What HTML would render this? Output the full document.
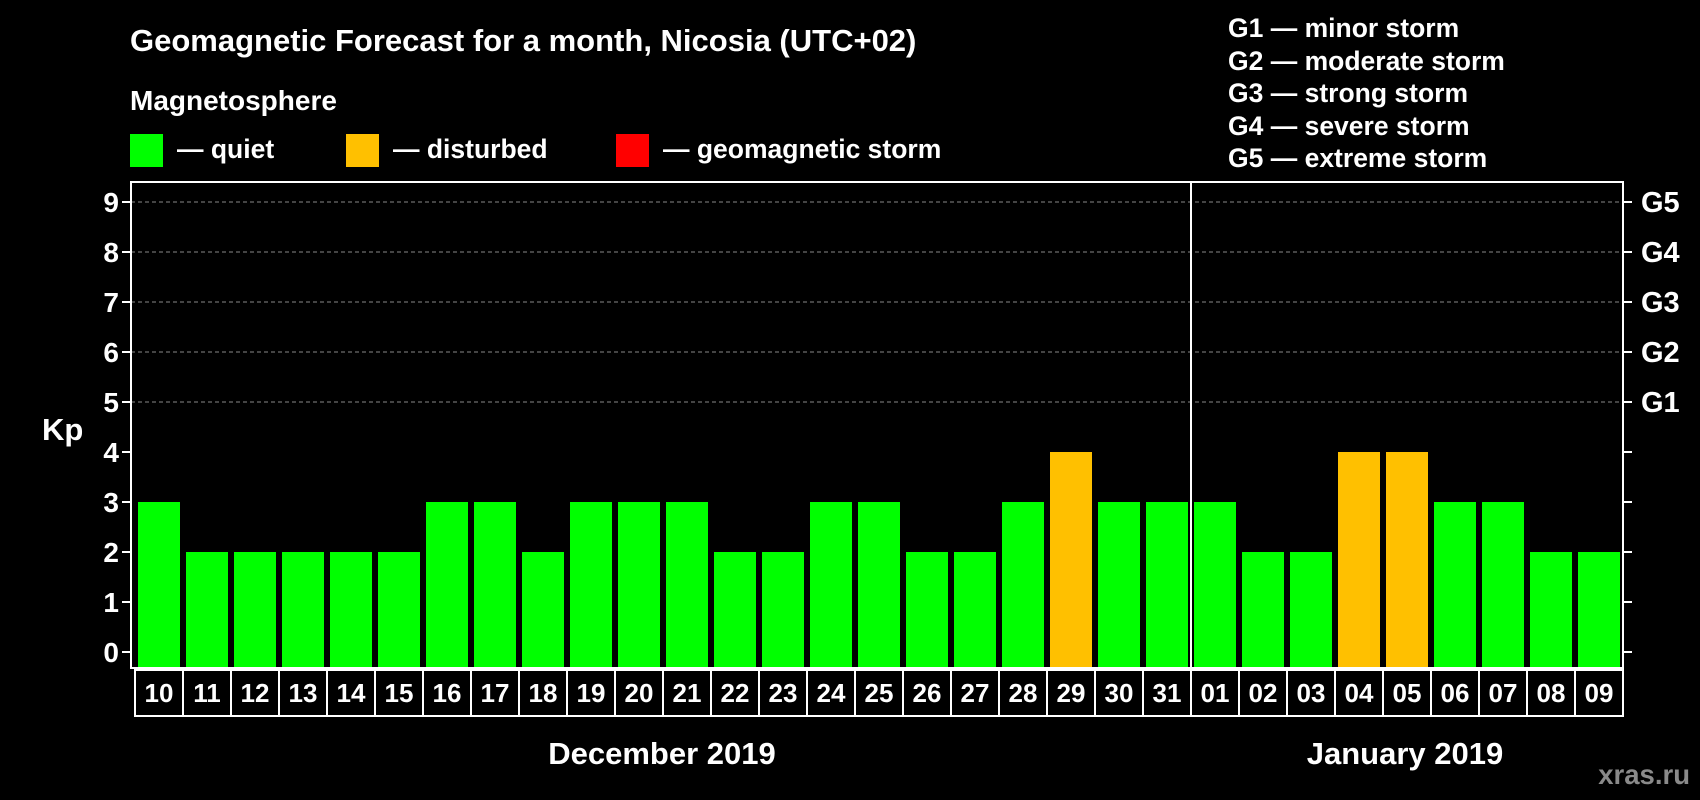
<!DOCTYPE html>
<html><head><meta charset="utf-8"><style>
body{margin:0;background:#000;}
svg{display:block;font-family:"Liberation Sans",Arial,sans-serif;font-weight:bold;}
</style></head><body>
<svg id="chart" width="1700" height="800" viewBox="0 0 1700 800">
<rect width="1700" height="800" fill="#000"/>
<text x="130" y="51" fill="#fff" font-size="31">Geomagnetic Forecast for a month, Nicosia (UTC+02)</text>
<text x="130" y="110" fill="#fff" font-size="28">Magnetosphere</text>
<g><rect x="130" y="134" width="33" height="33" fill="#00ff00"/><text x="177" y="158" fill="#fff" font-size="26.5">— quiet</text></g>
<g><rect x="346" y="134" width="33" height="33" fill="#ffc000"/><text x="393" y="158" fill="#fff" font-size="26.5">— disturbed</text></g>
<g><rect x="616" y="134" width="33" height="33" fill="#ff0000"/><text x="663" y="158" fill="#fff" font-size="26.5">— geomagnetic storm</text></g>
<g fill="#fff" font-size="26.5">
<text x="1228" y="37">G1 — minor storm</text>
<text x="1228" y="70">G2 — moderate storm</text>
<text x="1228" y="102">G3 — strong storm</text>
<text x="1228" y="135">G4 — severe storm</text>
<text x="1228" y="167">G5 — extreme storm</text>
</g>
<text x="42" y="440" fill="#fff" font-size="31">Kp</text>
<text x="662" y="764" fill="#fff" font-size="31" text-anchor="middle">December 2019</text>
<text x="1405" y="764" fill="#fff" font-size="31" text-anchor="middle">January 2019</text>
<text x="1690" y="784" fill="#8a8a8a" font-size="27.5" text-anchor="end">xras.ru</text>
<g id="plot"></g>
</svg>
<script>
const days=["10","11","12","13","14","15","16","17","18","19","20","21","22","23","24","25","26","27","28","29","30","31","01","02","03","04","05","06","07","08","09"];
const kpValues=[3,2,2,2,2,2,3,3,2,3,3,3,2,2,3,3,2,2,3,4,3,3,3,2,2,4,4,3,3,2,2];
const yTicks=[0,1,2,3,4,5,6,7,8,9];
const gLabels=["G1","G2","G3","G4","G5"];
const NS="http://www.w3.org/2000/svg";
const g=document.getElementById('plot');
const L=131,R=1623,T=182,B=668;
const y=v=>652-v*50;
const pitch=48, bw=42;
const x=i=>138+i*pitch;
function mk(t,a){const e=document.createElementNS(NS,t);for(const k in a)e.setAttribute(k,a[k]);g.appendChild(e);return e;}
yTicks.forEach(v=>{
 if(v>=5){const l=mk('line',{x1:L,x2:R,y1:y(v),y2:y(v),stroke:'#888','stroke-dasharray':'4,3','stroke-width':1});
 
 }
 const tl=mk('line',{x1:L-9,x2:L,y1:y(v),y2:y(v),stroke:'#fff','stroke-width':2});
 
 
 const tr=mk('line',{x1:R,x2:R+9,y1:y(v),y2:y(v),stroke:'#fff','stroke-width':2});
 
 
 const t=mk('text',{x:119,y:y(v)+10,fill:'#fff','font-size':28,'text-anchor':'end'});t.textContent=v;
 
 
});
gLabels.forEach((s,i)=>{const t=mk('text',{x:1641,y:y(5+i)+10,fill:'#fff','font-size':29});t.textContent=s;
 
 });
kpValues.forEach((v,i)=>{
 const c=v>=5?'#ff0000':(v>=4?'#ffc000':'#00ff00');
 const r=mk('rect',{x:x(i),y:y(v),width:bw,height:B-1-y(v),fill:c});
 
 
 const bx=mk('rect',{x:x(i)-3,y:670,width:pitch,height:46,fill:'none',stroke:'#fff','stroke-width':2});
 
 
 const t=mk('text',{x:x(i)+bw/2,y:702,fill:'#fff','font-size':26,'text-anchor':'middle'});t.textContent=days[i];
 
 
});
const fr=mk('rect',{x:L,y:T,width:R-L,height:B-T,fill:'none',stroke:'#fff','stroke-width':2});


const di=days.indexOf("01");
const dv=mk('line',{x1:x(di)-3,x2:x(di)-3,y1:T,y2:B,stroke:'#fff','stroke-width':2});


</script>
</body></html>
